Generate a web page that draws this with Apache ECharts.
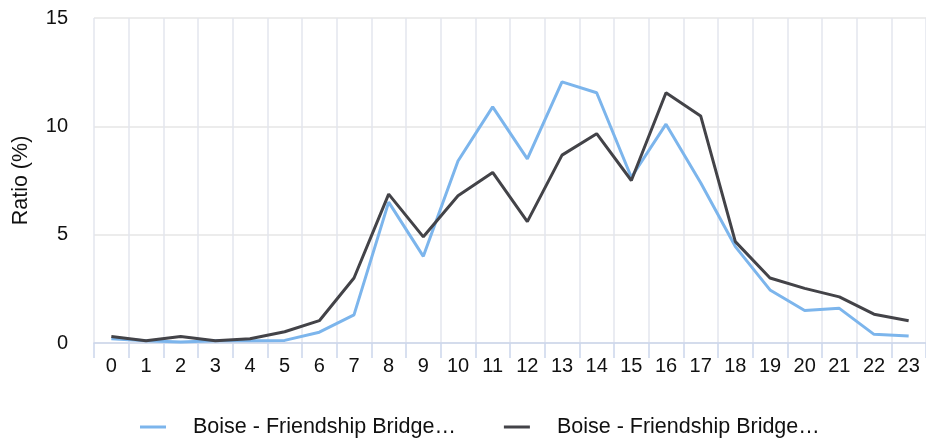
<!DOCTYPE html>
<html>
<head>
<meta charset="utf-8">
<script src="https://cdn.jsdelivr.net/npm/echarts@6/dist/echarts.min.js"></script>
<style>
  html, body { margin: 0; padding: 0; background: #fff; }
  #chart { width: 926px; height: 440px; }
</style>
</head>
<body>
<div id="chart"></div>
<script>
var hours = ['0','1','2','3','4','5','6','7','8','9','10','11','12','13','14','15','16','17','18','19','20','21','22','23'];
var seriesNames = ['Boise - Friendship Bridge A', 'Boise - Friendship Bridge B'];
var legendLabel = 'Boise - Friendship Bridge…';
var ratioBlue = [0.2, 0.1, 0.05, 0.1, 0.1, 0.12, 0.5, 1.3, 6.5, 4.0, 8.4, 10.9, 8.5, 12.05, 11.55, 7.65, 10.1, 7.4, 4.45, 2.45, 1.5, 1.6, 0.4, 0.32];
var ratioDark = [0.3, 0.1, 0.3, 0.1, 0.2, 0.52, 1.03, 3.0, 6.87, 4.9, 6.8, 7.87, 5.6, 8.67, 9.66, 7.5, 11.55, 10.48, 4.68, 3.0, 2.52, 2.13, 1.33, 1.03];

var chart = echarts.init(document.getElementById('chart'));

var option = {
  backgroundColor: '#ffffff',
  animation: false,
  textStyle: { fontFamily: 'Liberation Sans, Arial, sans-serif' },
  grid: { left: 94, right: -2, top: 18, bottom: 97 },
  legend: {
    left: 135,
    top: 411,
    itemWidth: 26,
    itemHeight: 3,
    itemGap: 48,
    icon: 'rect',
    formatter: function () { return legendLabel; },
    textStyle: { fontSize: 21.5, color: '#111', padding: [0, 0, 0, 22] },
    data: seriesNames
  },
  xAxis: {
    type: 'category',
    data: hours,
    boundaryGap: true,
    axisLine: { lineStyle: { color: '#ccd6eb', width: 1.5 } },
    axisTick: { show: true, length: 15, lineStyle: { color: '#ccd6eb', width: 1.5 } },
    axisLabel: { fontSize: 20, color: '#111', margin: 13 },
    splitLine: { show: true, lineStyle: { color: '#e3e6ee', width: 1.5 } }
  },
  yAxis: {
    type: 'value',
    min: 0,
    max: 15,
    interval: 5,
    name: 'Ratio (%)',
    nameLocation: 'middle',
    nameGap: 62,
    nameTextStyle: { fontSize: 21.5, color: '#111' },
    axisLine: { show: false },
    axisTick: { show: false },
    axisLabel: { fontSize: 20, color: '#111', margin: 26 },
    splitLine: { lineStyle: { color: '#e6e6e6', width: 1.5 } }
  },
  series: [
    {
      name: seriesNames[0],
      type: 'line',
      data: ratioBlue,
      showSymbol: false,
      symbol: 'none',
      lineStyle: { color: '#7cb5ec', width: 3 },
      itemStyle: { color: '#7cb5ec' }
    },
    {
      name: seriesNames[1],
      type: 'line',
      data: ratioDark,
      showSymbol: false,
      symbol: 'none',
      lineStyle: { color: '#434348', width: 3 },
      itemStyle: { color: '#434348' }
    }
  ]
};

chart.setOption(option);
</script>
</body>
</html>
